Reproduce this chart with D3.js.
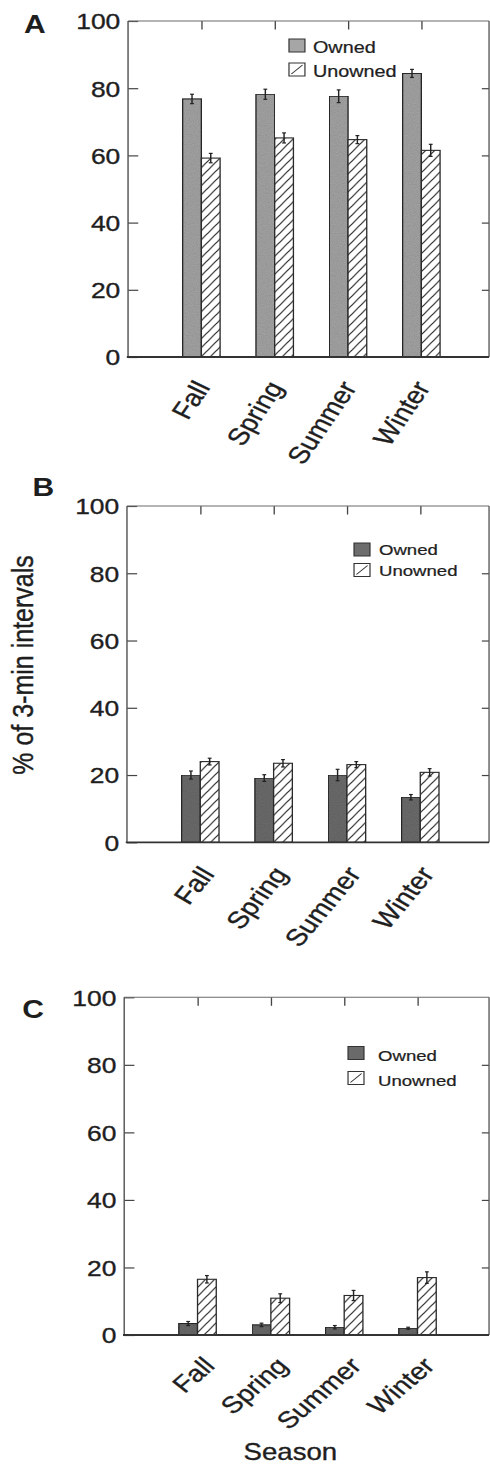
<!DOCTYPE html>
<html>
<head>
<meta charset="utf-8">
<script src="https://cdn.jsdelivr.net/npm/d3@7"></script>
<style>
  html, body { margin: 0; padding: 0; background: #fff; }
  svg { display: block; }
</style>
</head>
<body>
<div id="chart"></div>
<script>
// ---- data ----
const seasons = ["Fall", "Spring", "Summer", "Winter"];
const seriesNames = ["Owned", "Unowned"];
const yTicks = [0, 20, 40, 60, 80, 100];

const ownedA      = [76.8, 78.2, 77.6, 84.4];
const ownedErrA   = [1.4, 1.5, 1.9, 1.2];
const unownedA    = [59.2, 65.2, 64.7, 61.5];
const unownedErrA = [1.4, 1.5, 1.2, 1.8];

const ownedB      = [20.0, 19.1, 20.0, 13.4];
const ownedErrB   = [1.2, 1.0, 1.7, 0.8];
const unownedB    = [24.0, 23.5, 23.1, 20.8];
const unownedErrB = [1.0, 1.1, 0.9, 1.1];

const ownedC      = [3.4, 3.0, 2.3, 2.0];
const ownedErrC   = [0.6, 0.5, 0.5, 0.3];
const unownedC    = [16.5, 10.9, 11.7, 17.0];
const unownedErrC = [1.1, 1.3, 1.5, 1.7];

// ---- layout (drawing units; the svg is stretched horizontally) ----
const W = 408.3, H = 1465;
const plotRight = 407.5;
const step = 61.1;       // distance between season centres
const barW = 15.6;

const panels = [
  { letter: "A", owned: ownedA, ownedErr: ownedErrA, unowned: unownedA, unownedErr: unownedErrA,
    left: 106.7, top: 21, bottom: 357, ownedFill: "#a6a6a6",
    label: { dx: 8, dy: 30.5, angle: 60, size: 24 },
    letterPos: [20, 33], legend: { x: 240.8, y: 39, gap: 24, textX: 260.8, base: 14, size: 16.5 } },
  { letter: "B", owned: ownedB, ownedErr: ownedErrB, unowned: unownedB, unownedErr: unownedErrB,
    left: 105.8, top: 506, bottom: 842.3, ownedFill: "#6d6d6d",
    label: { dx: 12.5, dy: 32, angle: 55, size: 24 },
    letterPos: [27, 496], legend: { x: 295, y: 543, gap: 20.5, textX: 315.8, base: 12.5, size: 15.5 } },
  { letter: "C", owned: ownedC, ownedErr: ownedErrC, unowned: unownedC, unownedErr: unownedErrC,
    left: 103.5, top: 997.3, bottom: 1335, ownedFill: "#6a6a6a",
    label: { dx: 15.5, dy: 32, angle: 46, size: 23.5 },
    letterPos: [18.5, 1018], legend: { x: 290, y: 1046.5, gap: 25, textX: 315, base: 14.5, size: 15.5 } }
];

const svg = d3.select("#chart").append("svg")
  .attr("width", 490).attr("height", H)
  .attr("viewBox", `0 0 ${W} ${H}`)
  .attr("preserveAspectRatio", "none")
  .style("font-family", "'Liberation Sans', Arial, sans-serif");

// hatch for the unowned bars
const defs = svg.append("defs");
const hatch = defs.append("pattern")
  .attr("id", "hatch").attr("patternUnits", "userSpaceOnUse")
  .attr("width", 7.5).attr("height", 9);
hatch.append("rect").attr("width", 7.5).attr("height", 9).attr("fill", "#fff");
hatch.append("path")
  .attr("d", "M-1.875,2.25L1.875,-2.25M0,9L7.5,0M5.625,11.25L9.375,6.75")
  .attr("stroke", "#2e2e2e").attr("stroke-width", 1.1);

// light grain on the solid bars
const grain = defs.append("filter").attr("id", "grain")
  .attr("x", 0).attr("y", 0).attr("width", 1).attr("height", 1);
grain.append("feTurbulence").attr("type", "fractalNoise")
  .attr("baseFrequency", 0.9).attr("numOctaves", 2).attr("seed", 3).attr("result", "noise");
grain.append("feColorMatrix").attr("in", "noise").attr("type", "matrix")
  .attr("values", "0 0 0 0 0  0 0 0 0 0  0 0 0 0 0  0 0 0 0.28 0").attr("result", "dots");
grain.append("feComposite").attr("in", "dots").attr("in2", "SourceGraphic")
  .attr("operator", "in").attr("result", "dotsIn");
grain.append("feMerge").selectAll("feMergeNode")
  .data(["SourceGraphic", "dotsIn"]).join("feMergeNode").attr("in", d => d);

const ink = "#1e1e1e";
const heavy = sel => sel.attr("fill", ink).attr("stroke", ink).attr("stroke-width", 0.35);

panels.forEach(p => {
  const g = svg.append("g");
  const y = d3.scaleLinear().domain([0, 100]).range([p.bottom, p.top]);
  const x = d3.scaleLinear().domain([0, 5]).range([p.left, p.left + 5 * step]);
  const cx = i => x(i + 1);

  // left axis with inward ticks
  const yAxis = d3.axisLeft(y).tickValues(yTicks).tickSize(-8.5).tickPadding(6.5)
    .tickFormat(d3.format("d"));
  const ya = g.append("g").attr("transform", `translate(${p.left},0)`).call(yAxis);
  ya.select(".domain").remove();
  ya.selectAll(".tick line").attr("stroke", "#444").attr("stroke-width", 1.2);
  ya.selectAll(".tick text").attr("font-size", 22).attr("dy", "0.36em").call(heavy);

  // right axis, ticks only
  const yR = d3.axisRight(y).tickValues(yTicks.slice(1, 5)).tickSize(-6).tickFormat("");
  const yr = g.append("g").attr("transform", `translate(${plotRight},0)`).call(yR);
  yr.select(".domain").remove();
  yr.selectAll(".tick line").attr("stroke", "#444").attr("stroke-width", 1.2);

  // top ticks at the season centres
  const xTop = d3.axisTop(x).tickValues([1, 2, 3, 4]).tickSize(-8.5).tickFormat("");
  const xt = g.append("g").attr("transform", `translate(0,${p.top})`).call(xTop);
  xt.select(".domain").remove();
  xt.selectAll(".tick line").attr("stroke", "#444").attr("stroke-width", 1.1);

  // frame
  g.append("line").attr("x1", p.left).attr("x2", plotRight).attr("y1", p.top).attr("y2", p.top)
    .attr("stroke", "#6a6a6a").attr("stroke-width", 1.1);
  g.append("line").attr("x1", p.left).attr("x2", p.left).attr("y1", p.top).attr("y2", p.bottom)
    .attr("stroke", "#555").attr("stroke-width", 1.2);
  g.append("line").attr("x1", plotRight).attr("x2", plotRight).attr("y1", p.top).attr("y2", p.bottom)
    .attr("stroke", "#555").attr("stroke-width", 1.1);

  // bars
  const rows = seasons.map((s, i) => ({ i, s, o: p.owned[i], oe: p.ownedErr[i], u: p.unowned[i], ue: p.unownedErr[i] }));
  g.selectAll(".owned").data(rows).join("rect").attr("class", "owned")
    .attr("x", d => cx(d.i) - barW).attr("width", barW)
    .attr("y", d => y(d.o)).attr("height", d => y(0) - y(d.o))
    .attr("fill", p.ownedFill).attr("stroke", "#2a2a2a").attr("stroke-width", 1.1)
    .attr("filter", "url(#grain)");
  g.selectAll(".unowned").data(rows).join("rect").attr("class", "unowned")
    .attr("x", d => cx(d.i)).attr("width", barW)
    .attr("y", d => y(d.u)).attr("height", d => y(0) - y(d.u))
    .attr("fill", "url(#hatch)").attr("stroke", "#2a2a2a").attr("stroke-width", 1.1);

  // error bars
  const errs = rows.flatMap(d => [
    { x: cx(d.i) - barW / 2, v: d.o, e: d.oe },
    { x: cx(d.i) + barW / 2, v: d.u, e: d.ue }
  ]);
  const eg = g.append("g").attr("stroke", "#222").attr("stroke-width", 1.2);
  eg.selectAll(".ev").data(errs).join("line")
    .attr("x1", d => d.x).attr("x2", d => d.x)
    .attr("y1", d => y(d.v + d.e)).attr("y2", d => y(d.v - d.e));
  eg.selectAll(".ecTop").data(errs).join("line")
    .attr("x1", d => d.x - 1.6).attr("x2", d => d.x + 1.6)
    .attr("y1", d => y(d.v + d.e)).attr("y2", d => y(d.v + d.e));
  eg.selectAll(".ecBot").data(errs).join("line")
    .attr("x1", d => d.x - 1.6).attr("x2", d => d.x + 1.6)
    .attr("y1", d => y(d.v - d.e)).attr("y2", d => y(d.v - d.e));

  // baseline
  g.append("line").attr("x1", p.left - 1).attr("x2", plotRight).attr("y1", p.bottom).attr("y2", p.bottom)
    .attr("stroke", "#333").attr("stroke-width", 1.8);

  // rotated season labels
  const lb = p.label;
  g.selectAll(".season").data(seasons).join("text").attr("class", "season")
    .attr("transform", (d, i) => `translate(${cx(i) + lb.dx},${p.bottom + lb.dy}) rotate(${-lb.angle})`)
    .attr("text-anchor", "end").attr("font-size", lb.size)
    .call(heavy)
    .text(d => d);

  // legend
  const L = p.legend;
  const lg = g.append("g");
  lg.append("rect").attr("x", L.x).attr("y", L.y).attr("width", 13.3).attr("height", 13)
    .attr("fill", p.ownedFill).attr("stroke", "#333").attr("stroke-width", 1);
  lg.append("rect").attr("x", L.x).attr("y", L.y + L.gap).attr("width", 13.3).attr("height", 13)
    .attr("fill", "#fff").attr("stroke", "#333").attr("stroke-width", 1);
  lg.append("line").attr("x1", L.x + 2).attr("y1", L.y + L.gap + 11).attr("x2", L.x + 11.3).attr("y2", L.y + L.gap + 2)
    .attr("stroke", "#333").attr("stroke-width", 1);
  lg.selectAll("text").data(seriesNames).join("text")
    .attr("x", L.textX).attr("y", (d, i) => L.y + L.base + i * L.gap)
    .attr("font-size", L.size).call(heavy).attr("stroke-width", 0.25).text(d => d);

  // panel letter
  g.append("text").attr("x", p.letterPos[0]).attr("y", p.letterPos[1])
    .attr("font-size", 25).attr("font-weight", "bold").attr("fill", ink).text(p.letter);
});

// axis titles
svg.append("text")
  .attr("transform", `translate(27.5,665) rotate(-90)`)
  .attr("text-anchor", "middle").attr("font-size", 25)
  .call(heavy)
  .text("% of 3-min intervals");
svg.append("text")
  .attr("x", 242).attr("y", 1460)
  .attr("text-anchor", "middle").attr("font-size", 23)
  .call(heavy)
  .text("Season");
</script>
</body>
</html>
